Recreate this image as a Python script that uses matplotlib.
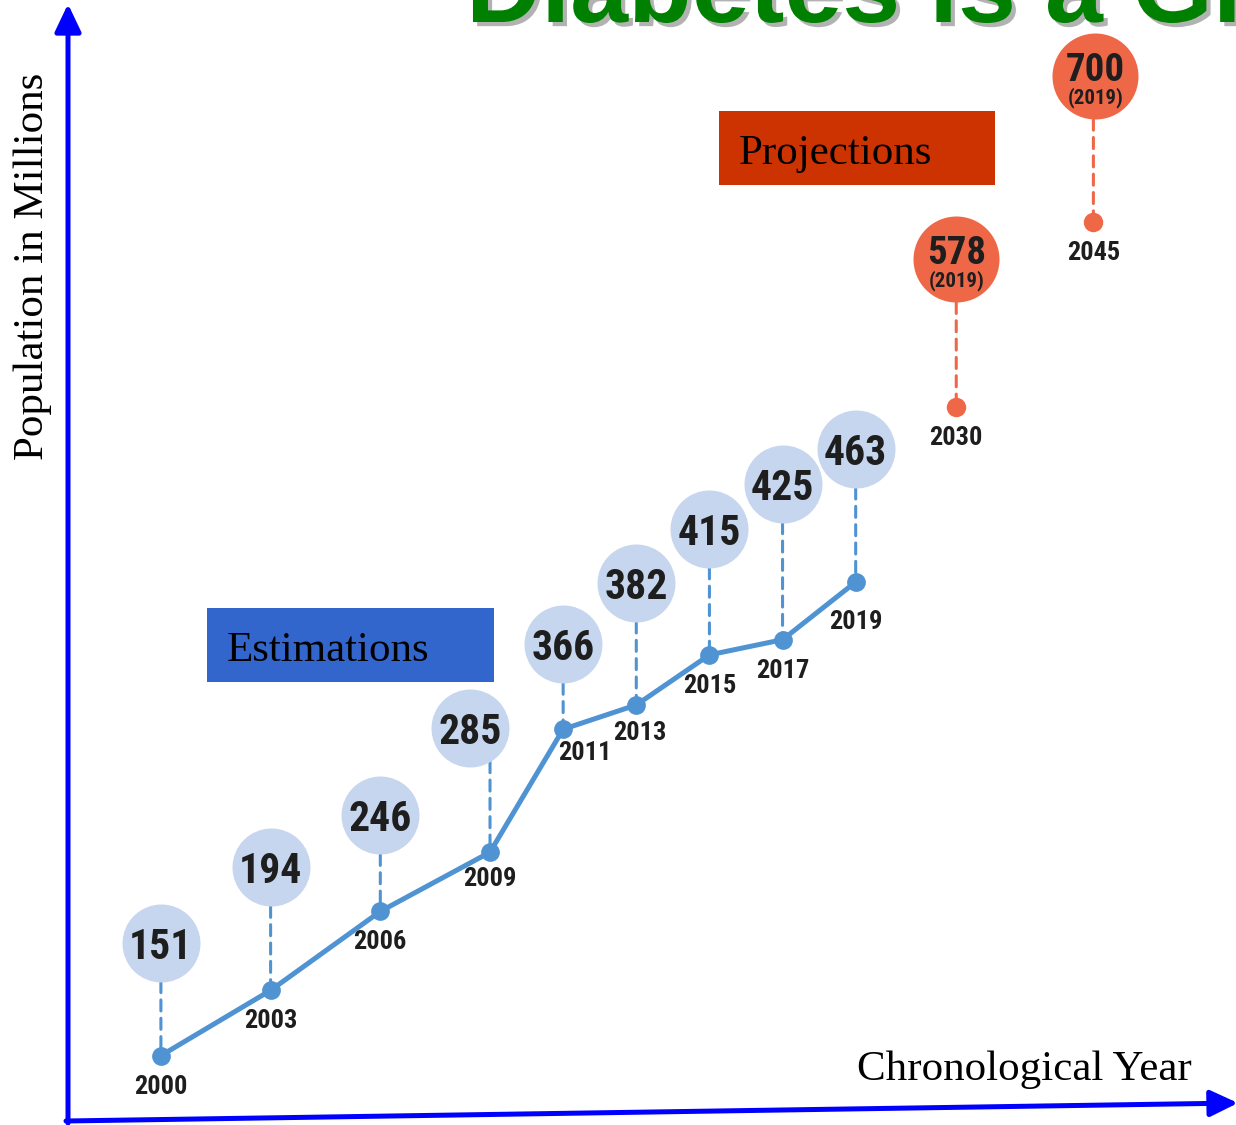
import numpy as np
import matplotlib
matplotlib.use("Agg")
import matplotlib.pyplot as plt
from matplotlib import patheffects as pe
from matplotlib import font_manager
from matplotlib.patches import Rectangle, FancyArrowPatch
from matplotlib.transforms import offset_copy

# ---- data -------------------------------------------------------------
est_years = [2000, 2003, 2006, 2009, 2011, 2013, 2015, 2017, 2019]
est_values = [151, 194, 246, 285, 366, 382, 415, 425, 463]
proj_years = [2030, 2045]
proj_values = [578, 700]
proj_basis = "(2019)"

title_text = "Diabetes is a Global Epidemic"
y_label = "Population in Millions"
x_label = "Chronological Year"
est_tag = "Estimations"
proj_tag = "Projections"

# ---- styling ----------------------------------------------------------
W, H = 1236, 1125
BLUE = "#4f93d2"
BUBBLE = "#c6d6ee"
ORANGE = "#ee6847"
INK = "#1e1e1e"

# pick a narrow bold face for the number badges
ttf = font_manager.fontManager.ttflist
names = {f.name for f in ttf}
NARROW_FAMILY, NARROW_STRETCH = None, "normal"
for cand in ["Roboto Condensed", "Liberation Sans Narrow", "Arial Narrow",
             "Open Sans Condensed", "Noto Sans Condensed", "DejaVu Sans Condensed"]:
    if cand in names:
        NARROW_FAMILY = cand
        break
if NARROW_FAMILY is None:
    for f in ttf:
        if "ondensed" in f.name or "Narrow" in f.name:
            NARROW_FAMILY = f.name
            break
if NARROW_FAMILY is None:
    for f in ttf:
        if str(f.stretch) in ("condensed", "semi-condensed", "extra-condensed") \
                and f.weight in ("bold", 700, "700"):
            NARROW_FAMILY, NARROW_STRETCH = f.name, "condensed"
            break
if NARROW_FAMILY is None:
    NARROW_FAMILY = "Roboto" if "Roboto" in names else "DejaVu Sans"
    NUM_SCALE = 0.82
else:
    NUM_SCALE = 1.0
NARROW = [NARROW_FAMILY, "DejaVu Sans"]
SERIF = ["Liberation Serif", "DejaVu Serif"]

fig = plt.figure(figsize=(W / 100, H / 100), dpi=100)
ax = fig.add_axes([0, 0, 1, 1])
ax.axis("off")

# later years are compressed on the horizontal scale
COMP = 0.25


def fwd(x):
    x = np.asarray(x, dtype=float)
    return np.where(x <= 2019, x, 2019 + (x - 2019) * COMP)


def inv(t):
    t = np.asarray(t, dtype=float)
    return np.where(t <= 2019, t, 2019 + (t - 2019) / COMP)


ax.set_xscale("function", functions=(fwd, inv))
ax.set_xlim(1995.6, 2060.6)
ax.set_ylim(105.3, 846.4)


def fx(px):
    return px / W


def fy(py):
    return 1 - py / H


def nfont(size):
    return dict(fontsize=size * NUM_SCALE, fontweight="bold", family=NARROW,
                fontstretch=NARROW_STRETCH, color=INK)


# trend line of estimations
ax.plot(est_years, est_values, color=BLUE, lw=3.6, zorder=2,
        solid_capstyle="round")
ax.plot(est_years, est_values, "o", ms=13.5, color=BLUE, mec="none", zorder=3)
ax.plot(proj_years, proj_values, "o", ms=14, color=ORANGE, mec="none", zorder=3)

# bubble offsets above each point (pixels)
est_offsets = [(0, 113), (0, 123), (0, 96), (-20, 124), (0, 85),
               (0, 122), (0, 126), (0, 156), (0, 133)]
proj_offsets = [(0, 148), (2, 146)]
label_shift = {2009: (0, 27), 2011: (22, 24), 2013: (4, 28), 2019: (0, 40)}


def stem(x, y, dx, dy, r, color):
    top = dy - np.sqrt(r ** 2 - dx ** 2)
    ax.annotate("", xy=(x, y), xycoords="data", xytext=(0, top),
                textcoords="offset pixels",
                arrowprops=dict(arrowstyle="-", color=color, lw=2.2,
                                linestyle=(0, (3.6, 2.4)),
                                shrinkA=0, shrinkB=0),
                zorder=1)


def year_label(x, y):
    dx, dy = label_shift.get(x, (0, 31))
    ax.annotate(str(x), xy=(x, y), xytext=(dx, -dy),
                textcoords="offset pixels", ha="center", va="center",
                zorder=5, **nfont(19))


for x, v, (dx, dy) in zip(est_years, est_values, est_offsets):
    r = 39
    stem(x, v, dx, dy, r, BLUE)
    tr = offset_copy(ax.transData, fig=fig, x=dx, y=dy, units="dots")
    ax.plot([x], [v], "o", ms=2 * r * 0.72, mfc=BUBBLE, mec="none",
            transform=tr, zorder=4)
    ax.text(x, v, str(v), transform=tr, ha="center", va="center_baseline",
            zorder=5, **nfont(30))
    year_label(x, v)

for x, v, (dx, dy) in zip(proj_years, proj_values, proj_offsets):
    r = 43
    stem(x, v, dx, dy, r, ORANGE)
    tr = offset_copy(ax.transData, fig=fig, x=dx, y=dy, units="dots")
    ax.plot([x], [v], "o", ms=2 * r * 0.72, mfc=ORANGE, mec="none",
            transform=tr, zorder=4)
    tr_num = offset_copy(ax.transData, fig=fig, x=dx, y=dy + 10, units="dots")
    ax.text(x, v, str(v), transform=tr_num, ha="center", va="center_baseline",
            zorder=5, **nfont(28))
    tr_sub = offset_copy(ax.transData, fig=fig, x=dx, y=dy - 19, units="dots")
    ax.text(x, v, proj_basis, transform=tr_sub, ha="center", va="center_baseline",
            zorder=5, **nfont(15))
    year_label(x, v)

# coloured tags
fig.patches.append(Rectangle((fx(207), fy(682)), (494 - 207) / W, 74 / H,
                             transform=fig.transFigure, facecolor="#3366cc",
                             edgecolor="none", zorder=1))
fig.text(fx(227), fy(661), est_tag, ha="left", va="baseline", fontsize=31,
         family=SERIF, color="black")
fig.patches.append(Rectangle((fx(719), fy(185)), (995 - 719) / W, 74 / H,
                             transform=fig.transFigure, facecolor="#cc3300",
                             edgecolor="none", zorder=1))
fig.text(fx(739), fy(164), proj_tag, ha="left", va="baseline", fontsize=31,
         family=SERIF, color="black")

# axis titles
fig.text(fx(33), fy(266), y_label, rotation=90, ha="center", va="center",
         fontsize=31, family=SERIF, color="black")
fig.text(fx(857), fy(1080), x_label, ha="left", va="baseline",
         fontsize=31, family=SERIF, color="black")

# axes drawn as arrows
for start, end in [((68, 1123), (68, 4)), ((66, 1121), (1238, 1103))]:
    fig.patches.append(FancyArrowPatch(
        (fx(start[0]), fy(start[1])), (fx(end[0]), fy(end[1])),
        transform=fig.transFigure, arrowstyle="-|>,head_length=0.42,head_width=0.2",
        mutation_scale=40, color="#0000ff", lw=3.6, shrinkA=0, shrinkB=0,
        zorder=6))

# headline, partly running off the top edge
fig.text(fx(466), fy(22), title_text, ha="left", va="baseline", fontsize=75,
         fontweight="bold", family=["Liberation Sans", "DejaVu Sans"],
         color="#008000",
         path_effects=[pe.SimplePatchShadow(offset=(3, -3), shadow_rgbFace="#808080",
                                            alpha=0.6),
                       pe.Normal()])

fig.savefig("out.png", dpi=100)
